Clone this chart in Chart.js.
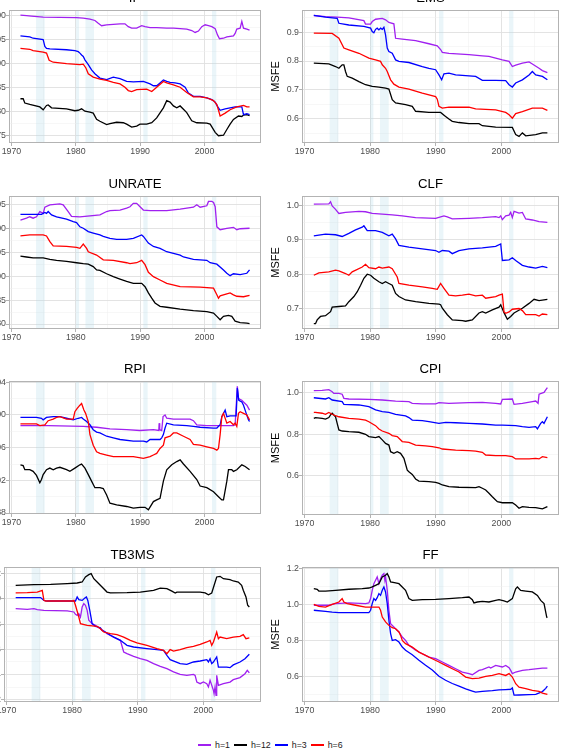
<!DOCTYPE html>
<html><head><meta charset="utf-8">
<script src="https://cdn.jsdelivr.net/npm/chart.js@4.4.1/dist/chart.umd.min.js"></script>
<style>
html,body{margin:0;padding:0;background:#fff}
body{width:564px;height:751px;overflow:hidden;position:relative;font-family:"Liberation Sans",Arial,sans-serif}
#legend{position:absolute;left:198px;top:737px;height:16px;display:flex;align-items:center;font-size:8.8px;color:#1a1a1a}
.key{width:13px;height:1.5px;margin-right:4px}
.lab{margin-right:4px;line-height:16px}
</style></head><body>
<div id="legend"></div>
<script>
// ---------------- shared axis data ----------------
const X_MIN = 1969.62, X_MAX = 2008.78;
const xTicks = [1970, 1975, 1980, 1985, 1990, 1995, 2000, 2005];
const xTickLabels = ['1970', '', '1980', '', '1990', '', '2000', ''];
const recessions = [[1973.83, 1975.17], [1980.0, 1980.5], [1981.5, 1982.83], [1990.5, 1991.17], [2001.17, 2001.83]];
const seriesNames = ['h=1', 'h=12', 'h=3', 'h=6'];
const seriesColors = ['#A020F0', '#000000', '#0000FF', '#FF0000'];

// ---------------- IP ----------------
const IP_yTicks = [0.75, 0.80, 0.85, 0.90, 0.95, 1.00];
const IP_yLabels = ['0.75', '0.80', '0.85', '0.90', '0.95', '1.00'];
const IP_h1 = [[1971.40,1.001],[1972.34,1.000],[1973.11,0.999],[1974.93,0.997],[1980.12,0.996],[1981.16,0.995],[1982.20,0.993],[1982.97,0.990],[1983.49,0.984],[1984.01,0.979],[1984.79,0.981],[1985.83,0.982],[1986.87,0.983],[1987.64,0.983],[1988.16,0.977],[1988.68,0.974],[1989.46,0.974],[1990.24,0.979],[1990.76,0.977],[1991.54,0.975],[1992.57,0.975],[1994.13,0.974],[1995.17,0.974],[1996.21,0.973],[1997.24,0.972],[1998.02,0.969],[1998.54,0.965],[1999.06,0.968],[1999.58,0.977],[2000.10,0.981],[2000.62,0.979],[2001.14,0.977],[2001.66,0.973],[2002.02,0.960],[2002.33,0.952],[2002.95,0.953],[2003.47,0.956],[2004.50,0.958],[2004.76,0.963],[2005.02,0.972],[2005.54,0.974],[2005.80,0.988],[2006.06,0.974],[2006.58,0.972],[2007.0,0.970]];
const IP_h12 = [[1971.40,0.827],[1971.82,0.827],[1972.08,0.818],[1972.85,0.815],[1974.41,0.810],[1974.93,0.804],[1975.45,0.813],[1975.71,0.814],[1976.23,0.808],[1978.56,0.806],[1979.86,0.802],[1980.38,0.803],[1980.90,0.806],[1981.42,0.801],[1982.20,0.799],[1982.71,0.797],[1983.23,0.784],[1983.75,0.780],[1984.79,0.773],[1985.31,0.775],[1986.35,0.778],[1987.38,0.777],[1987.90,0.774],[1988.68,0.768],[1989.46,0.770],[1989.98,0.774],[1991.02,0.774],[1991.80,0.777],[1992.57,0.787],[1993.61,0.808],[1994.13,0.823],[1994.65,0.820],[1995.17,0.812],[1995.69,0.808],[1996.21,0.812],[1996.73,0.805],[1997.24,0.798],[1998.02,0.781],[1998.80,0.777],[2000.36,0.776],[2000.88,0.774],[2001.66,0.757],[2002.17,0.750],[2002.95,0.751],[2003.47,0.763],[2003.98,0.774],[2004.50,0.784],[2005.28,0.791],[2005.80,0.790],[2006.06,0.793],[2006.58,0.794],[2007.0,0.792]];
const IP_h3 = [[1971.40,0.958],[1972.85,0.956],[1973.37,0.953],[1974.93,0.950],[1975.19,0.936],[1975.45,0.932],[1975.97,0.931],[1978.56,0.929],[1979.86,0.927],[1980.38,0.925],[1980.64,0.922],[1980.90,0.918],[1981.16,0.915],[1981.42,0.908],[1981.94,0.898],[1982.45,0.887],[1982.97,0.879],[1983.75,0.870],[1984.79,0.867],[1985.83,0.872],[1986.87,0.869],[1987.90,0.863],[1988.94,0.862],[1990.50,0.863],[1991.54,0.858],[1992.06,0.854],[1992.57,0.854],[1993.09,0.860],[1993.61,0.866],[1994.13,0.863],[1994.65,0.861],[1995.43,0.860],[1996.21,0.858],[1996.99,0.851],[1997.50,0.839],[1998.28,0.832],[1999.32,0.832],[2000.36,0.829],[2001.14,0.825],[2001.66,0.820],[2002.02,0.811],[2002.43,0.803],[2003.21,0.806],[2003.98,0.808],[2004.76,0.810],[2005.28,0.810],[2005.80,0.810],[2006.06,0.794],[2006.58,0.796],[2007.0,0.794]];
const IP_h6 = [[1971.40,0.932],[1972.85,0.930],[1973.37,0.927],[1974.93,0.924],[1975.45,0.922],[1975.86,0.907],[1976.49,0.903],[1978.56,0.900],[1980.64,0.898],[1981.16,0.899],[1981.57,0.891],[1981.94,0.879],[1982.71,0.872],[1983.75,0.868],[1984.79,0.865],[1985.83,0.861],[1986.87,0.858],[1987.64,0.851],[1988.16,0.844],[1988.68,0.842],[1989.46,0.846],[1991.02,0.847],[1991.80,0.842],[1992.57,0.851],[1993.61,0.863],[1994.13,0.860],[1995.17,0.856],[1996.21,0.851],[1997.24,0.840],[1998.28,0.831],[1999.32,0.831],[2000.36,0.829],[2001.40,0.823],[2001.92,0.815],[2002.43,0.791],[2003.21,0.797],[2003.98,0.804],[2005.02,0.810],[2006.06,0.813],[2006.58,0.810],[2007.0,0.810]];

// ---------------- EMS ----------------
const EMS_yTicks = [0.6, 0.7, 0.8, 0.9];
const EMS_yLabels = ['0.6', '0.7', '0.8', '0.9'];
const EMS_h1 = [[1971.42,0.958],[1973.20,0.954],[1974.98,0.952],[1976.76,0.950],[1979.05,0.940],[1979.30,0.928],[1980.07,0.928],[1980.32,0.937],[1980.83,0.945],[1981.85,0.948],[1982.35,0.943],[1982.86,0.934],[1983.62,0.929],[1983.88,0.879],[1984.90,0.876],[1986.93,0.871],[1988.96,0.860],[1990.23,0.853],[1990.74,0.840],[1991.00,0.830],[1992.01,0.827],[1995.06,0.822],[1997.10,0.818],[1998.11,0.816],[1999.13,0.810],[2000.15,0.804],[2001.17,0.799],[2001.67,0.781],[2002.18,0.786],[2003.20,0.793],[2004.22,0.797],[2004.72,0.790],[2005.74,0.775],[2006.25,0.767],[2007.01,0.760]];
const EMS_h12 = [[1971.42,0.793],[1973.71,0.790],[1974.73,0.781],[1975.24,0.775],[1975.74,0.787],[1976.0,0.787],[1976.25,0.764],[1976.51,0.747],[1977.27,0.741],[1978.29,0.729],[1979.30,0.718],[1980.32,0.712],[1981.34,0.710],[1982.35,0.706],[1982.86,0.703],[1983.37,0.666],[1983.88,0.655],[1985.40,0.649],[1986.42,0.643],[1986.93,0.626],[1988.96,0.622],[1990.74,0.622],[1991.50,0.608],[1992.01,0.599],[1992.52,0.591],[1993.54,0.587],[1995.06,0.583],[1996.59,0.583],[1997.10,0.576],[1999.13,0.571],[2001.67,0.570],[2002.18,0.545],[2002.69,0.539],[2003.20,0.551],[2003.71,0.541],[2005.23,0.545],[2006.25,0.551],[2007.01,0.551]];
const EMS_h3 = [[1971.42,0.958],[1973.20,0.952],[1974.98,0.948],[1975.24,0.931],[1976.76,0.925],[1979.05,0.920],[1980.07,0.914],[1980.32,0.902],[1980.57,0.898],[1980.83,0.910],[1981.08,0.914],[1981.34,0.908],[1981.59,0.914],[1981.85,0.910],[1982.10,0.917],[1982.35,0.891],[1982.61,0.845],[1982.86,0.833],[1983.37,0.827],[1983.88,0.804],[1984.39,0.799],[1985.91,0.795],[1987.95,0.781],[1988.96,0.775],[1989.98,0.770],[1990.49,0.752],[1990.90,0.735],[1991.25,0.756],[1992.01,0.758],[1993.03,0.752],[1996.08,0.747],[1997.10,0.733],[1999.13,0.733],[2000.66,0.732],[2001.17,0.718],[2001.67,0.710],[2002.18,0.724],[2003.20,0.735],[2004.22,0.752],[2004.72,0.764],[2005.23,0.752],[2006.25,0.747],[2007.01,0.735]];
const EMS_h6 = [[1971.42,0.897],[1974.22,0.896],[1975.24,0.879],[1976.0,0.845],[1976.76,0.839],[1978.29,0.827],[1979.81,0.810],[1980.83,0.804],[1981.59,0.799],[1981.85,0.787],[1982.35,0.775],[1982.61,0.764],[1983.12,0.735],[1983.62,0.720],[1984.39,0.710],[1985.91,0.703],[1987.95,0.689],[1989.98,0.677],[1990.23,0.668],[1990.49,0.643],[1991.00,0.637],[1992.01,0.640],[1995.06,0.640],[1996.08,0.634],[1999.13,0.631],[2000.66,0.622],[2001.17,0.614],[2001.67,0.602],[2002.18,0.618],[2003.20,0.625],[2004.72,0.637],[2006.25,0.637],[2007.01,0.629]];

// ---------------- UNRATE ----------------
const UNRATE_yTicks = [0.80, 0.85, 0.90, 0.95, 1.00, 1.05];
const UNRATE_yLabels = ['0.80', '0.85', '0.90', '0.95', '1.00', '1.05'];
const UNRATE_h1 = [[1971.40,1.017],[1972.34,1.021],[1972.85,1.024],[1973.37,1.021],[1973.89,1.024],[1974.41,1.035],[1974.93,1.031],[1975.19,1.044],[1975.97,1.049],[1977.52,1.051],[1978.04,1.049],[1978.82,1.035],[1979.34,1.025],[1980.64,1.024],[1983.75,1.028],[1984.79,1.035],[1985.31,1.037],[1986.87,1.038],[1987.90,1.042],[1988.42,1.045],[1988.94,1.052],[1989.46,1.052],[1989.98,1.045],[1990.50,1.038],[1991.54,1.037],[1994.13,1.037],[1996.21,1.040],[1998.28,1.044],[1998.80,1.049],[1999.32,1.044],[2000.36,1.047],[2000.62,1.056],[2001.14,1.056],[2001.40,1.054],[2001.66,1.045],[2001.92,1.003],[2002.43,0.997],[2003.47,1.000],[2004.50,1.002],[2005.02,0.997],[2005.54,0.999],[2007.0,1.000]];
const UNRATE_h12 = [[1971.40,0.942],[1972.34,0.940],[1973.37,0.938],[1974.93,0.938],[1975.97,0.935],[1977.01,0.933],[1978.56,0.931],[1980.12,0.928],[1981.16,0.926],[1981.94,0.925],[1982.71,0.920],[1983.23,0.913],[1983.75,0.912],[1984.79,0.905],[1985.83,0.899],[1986.87,0.894],[1987.90,0.889],[1988.94,0.885],[1990.24,0.885],[1990.76,0.878],[1991.28,0.865],[1991.80,0.854],[1992.31,0.844],[1993.09,0.837],[1994.13,0.835],[1996.21,0.831],[1998.28,0.828],[2000.36,0.826],[2001.40,0.823],[2001.92,0.816],[2002.43,0.809],[2002.95,0.816],[2003.73,0.818],[2004.24,0.816],[2004.76,0.806],[2005.54,0.803],[2006.58,0.802],[2007.0,0.801]];
const UNRATE_h3 = [[1971.40,1.029],[1974.67,1.029],[1975.19,1.033],[1975.45,1.031],[1975.71,1.035],[1976.23,1.028],[1977.01,1.024],[1978.56,1.019],[1979.60,1.014],[1980.12,1.012],[1980.64,1.003],[1981.16,1.000],[1981.94,0.993],[1982.71,0.990],[1983.75,0.986],[1984.27,0.983],[1985.31,0.979],[1986.35,0.977],[1987.90,0.977],[1988.94,0.979],[1990.24,0.986],[1990.50,0.983],[1991.28,0.969],[1992.06,0.962],[1993.09,0.958],[1994.13,0.951],[1996.21,0.944],[1996.73,0.940],[1998.28,0.935],[2000.36,0.933],[2000.88,0.928],[2001.92,0.925],[2002.95,0.913],[2003.47,0.906],[2003.98,0.901],[2004.50,0.905],[2005.54,0.903],[2006.58,0.906],[2007.0,0.913]];
const UNRATE_h6 = [[1971.40,0.984],[1972.85,0.986],[1974.93,0.986],[1975.45,0.984],[1975.97,0.972],[1976.49,0.963],[1978.56,0.962],[1980.12,0.960],[1980.64,0.958],[1981.16,0.967],[1981.68,0.958],[1981.94,0.951],[1983.23,0.944],[1984.27,0.934],[1985.83,0.933],[1987.90,0.928],[1988.42,0.926],[1989.46,0.928],[1990.24,0.933],[1990.76,0.924],[1991.28,0.908],[1992.06,0.899],[1993.09,0.892],[1994.13,0.885],[1996.21,0.878],[1999.32,0.877],[2001.40,0.875],[2001.92,0.861],[2002.17,0.854],[2002.43,0.859],[2003.47,0.863],[2003.98,0.865],[2004.50,0.861],[2005.02,0.858],[2006.06,0.857],[2007.0,0.860]];

// ---------------- CLF ----------------
const CLF_yTicks = [0.7, 0.8, 0.9, 1.0];
const CLF_yLabels = ['0.7', '0.8', '0.9', '1.0'];
const CLF_h1 = [[1971.42,1.004],[1973.71,1.005],[1973.97,1.011],[1974.22,0.999],[1974.73,0.989],[1975.24,0.977],[1976.25,0.980],[1978.29,0.983],[1979.30,0.982],[1980.32,0.977],[1981.85,0.975],[1983.37,0.973],[1984.90,0.970],[1986.93,0.965],[1989.98,0.963],[1991.25,0.970],[1991.76,0.967],[1992.52,0.961],[1995.06,0.963],[1997.10,0.965],[1999.13,0.968],[1999.64,0.965],[1999.90,0.970],[2000.15,0.959],[2000.66,0.970],[2001.17,0.972],[2001.42,0.980],[2001.67,0.965],[2001.93,0.983],[2002.69,0.978],[2003.20,0.980],[2003.71,0.961],[2004.72,0.958],[2005.74,0.953],[2007.01,0.951]];
const CLF_h12 = [[1971.42,0.656],[1971.68,0.656],[1971.93,0.667],[1972.44,0.677],[1973.20,0.679],[1973.97,0.691],[1974.22,0.704],[1975.24,0.706],[1976.25,0.708],[1976.76,0.720],[1977.53,0.735],[1978.04,0.749],[1978.55,0.768],[1979.05,0.788],[1979.56,0.800],[1980.07,0.797],[1980.57,0.788],[1981.34,0.778],[1981.85,0.773],[1982.35,0.778],[1982.86,0.773],[1983.37,0.768],[1983.88,0.744],[1984.39,0.735],[1985.40,0.725],[1986.93,0.720],[1988.96,0.715],[1990.49,0.713],[1990.74,0.711],[1991.00,0.701],[1991.76,0.682],[1992.52,0.667],[1994.05,0.665],[1994.56,0.663],[1995.57,0.667],[1996.59,0.687],[1997.10,0.691],[1997.61,0.687],[1998.62,0.696],[1999.64,0.704],[1999.90,0.711],[2000.40,0.688],[2000.91,0.669],[2001.42,0.677],[2001.93,0.687],[2003.20,0.701],[2004.22,0.715],[2004.98,0.727],[2005.74,0.723],[2007.01,0.727]];
const CLF_h3 = [[1971.42,0.912],[1973.20,0.917],[1974.73,0.915],[1975.74,0.910],[1976.76,0.919],[1977.78,0.929],[1978.80,0.937],[1979.05,0.941],[1979.56,0.927],[1980.83,0.927],[1981.85,0.922],[1982.86,0.912],[1983.37,0.917],[1983.88,0.903],[1984.39,0.884],[1985.91,0.879],[1987.95,0.874],[1989.98,0.869],[1990.49,0.864],[1991.00,0.869],[1992.01,0.867],[1992.52,0.860],[1993.54,0.869],[1995.06,0.874],[1997.10,0.877],[1999.13,0.881],[1999.90,0.888],[2000.15,0.840],[2001.17,0.842],[2001.67,0.848],[2002.18,0.840],[2003.20,0.826],[2004.22,0.821],[2005.23,0.818],[2006.25,0.823],[2007.01,0.819]];
const CLF_h6 = [[1971.42,0.797],[1972.19,0.804],[1973.71,0.807],[1974.73,0.812],[1975.24,0.810],[1976.25,0.802],[1976.76,0.797],[1977.27,0.807],[1978.80,0.821],[1979.30,0.829],[1979.81,0.819],[1980.83,0.816],[1981.34,0.821],[1981.85,0.818],[1982.86,0.821],[1983.37,0.816],[1984.13,0.792],[1984.39,0.773],[1985.91,0.768],[1987.95,0.763],[1989.47,0.759],[1990.23,0.756],[1990.74,0.773],[1991.25,0.759],[1992.01,0.739],[1993.03,0.737],[1994.05,0.739],[1995.06,0.742],[1996.08,0.737],[1997.10,0.739],[1997.61,0.730],[1999.13,0.735],[1999.64,0.739],[2000.15,0.742],[2000.40,0.690],[2000.66,0.686],[2001.17,0.690],[2001.67,0.698],[2002.69,0.700],[2003.20,0.694],[2003.71,0.682],[2005.23,0.682],[2005.74,0.678],[2006.25,0.684],[2007.01,0.682]];

// ---------------- RPI ----------------
const RPI_yTicks = [0.88, 0.92, 0.96, 1.00, 1.04];
const RPI_yLabels = ['0.88', '0.92', '0.96', '1.00', '1.04'];
const RPI_h1 = [[1971.40,0.987],[1975.71,0.987],[1981.16,0.986],[1983.23,0.985],[1985.31,0.983],[1987.90,0.982],[1989.98,0.981],[1992.06,0.982],[1992.90,0.981],[1992.95,0.990],[1993.04,0.982],[1993.35,0.981],[1993.56,0.998],[1993.87,1.000],[1994.13,0.996],[1995.17,0.995],[1997.76,0.995],[1998.28,0.993],[1998.80,0.988],[2000.36,0.987],[2004.50,0.987],[2004.76,0.988],[2005.10,1.035],[2005.28,1.020],[2005.80,1.018],[2006.06,1.016],[2006.58,1.012],[2007.0,1.006]];
const RPI_h12 = [[1971.40,0.939],[1971.82,0.938],[1972.08,0.933],[1972.85,0.933],[1973.37,0.931],[1973.89,0.926],[1974.41,0.917],[1974.67,0.921],[1974.93,0.927],[1975.45,0.933],[1975.97,0.935],[1976.49,0.933],[1977.01,0.935],[1977.53,0.936],[1978.56,0.933],[1979.08,0.931],[1979.86,0.935],[1980.64,0.939],[1980.90,0.940],[1981.42,0.935],[1981.94,0.927],[1982.45,0.919],[1982.97,0.911],[1983.75,0.911],[1984.27,0.910],[1984.79,0.902],[1985.31,0.892],[1986.35,0.890],[1987.90,0.888],[1988.94,0.886],[1989.98,0.887],[1990.76,0.887],[1991.28,0.884],[1992.06,0.894],[1992.57,0.896],[1993.09,0.898],[1993.61,0.919],[1994.13,0.933],[1994.91,0.939],[1995.69,0.943],[1996.21,0.945],[1996.73,0.940],[1997.76,0.931],[1998.80,0.921],[1999.32,0.913],[2000.36,0.911],[2001.40,0.906],[2002.17,0.900],[2002.69,0.896],[2002.95,0.896],[2003.47,0.919],[2003.73,0.933],[2004.24,0.933],[2004.50,0.931],[2005.02,0.933],[2005.80,0.939],[2006.32,0.937],[2007.0,0.933]];
const RPI_h3 = [[1971.40,0.997],[1973.89,0.997],[1974.67,0.996],[1974.93,0.994],[1975.45,0.997],[1976.49,0.998],[1977.53,0.998],[1978.56,0.996],[1979.60,0.994],[1980.38,0.996],[1980.90,0.997],[1981.16,0.995],[1981.68,0.992],[1982.20,0.988],[1982.71,0.982],[1983.23,0.979],[1983.75,0.978],[1984.79,0.974],[1985.83,0.972],[1986.87,0.970],[1988.94,0.968],[1990.50,0.968],[1991.02,0.967],[1991.54,0.970],[1993.09,0.970],[1993.35,0.972],[1993.61,0.976],[1993.87,0.984],[1994.13,0.990],[1995.17,0.988],[1997.24,0.987],[1998.28,0.986],[1999.32,0.985],[2001.40,0.984],[2001.92,0.984],[2002.43,0.988],[2002.69,0.998],[2003.21,1.006],[2003.47,0.998],[2003.98,0.999],[2004.50,0.999],[2004.92,0.999],[2005.10,1.033],[2005.33,1.018],[2005.80,1.016],[2006.06,1.012],[2006.48,1.002],[2006.84,0.994],[2007.0,0.992]];
const RPI_h6 = [[1971.40,0.989],[1973.89,0.989],[1974.41,0.987],[1975.19,0.988],[1975.71,0.993],[1976.49,0.995],[1977.01,0.997],[1977.53,0.998],[1978.56,0.995],[1979.60,0.995],[1979.86,1.004],[1980.22,1.008],[1980.64,1.012],[1980.90,1.014],[1981.26,1.006],[1981.52,1.002],[1981.94,0.992],[1982.20,0.976],[1982.71,0.963],[1983.23,0.955],[1983.75,0.953],[1984.79,0.951],[1985.83,0.949],[1988.94,0.949],[1990.50,0.947],[1991.54,0.949],[1992.06,0.951],[1992.57,0.953],[1993.09,0.959],[1993.61,0.963],[1993.87,0.972],[1994.65,0.974],[1995.17,0.978],[1995.69,0.978],[1996.73,0.974],[1997.76,0.970],[1998.28,0.964],[1999.32,0.963],[2000.36,0.961],[2001.40,0.959],[2001.92,0.957],[2002.17,0.959],[2002.43,0.976],[2002.69,0.998],[2002.95,1.002],[2003.47,0.990],[2003.98,0.992],[2004.50,0.988],[2004.76,0.990],[2005.02,0.986],[2005.28,1.002],[2005.54,1.004],[2006.06,1.002],[2006.58,1.000],[2007.0,0.994]];

// ---------------- CPI ----------------
const CPI_yTicks = [0.6, 0.8, 1.0];
const CPI_yLabels = ['0.6', '0.8', '1.0'];
const CPI_h1 = [[1971.42,1.011],[1972.69,1.013],[1973.71,1.016],[1974.22,1.006],[1974.47,0.998],[1975.24,0.998],[1975.74,0.994],[1976.0,0.974],[1976.76,0.971],[1979.81,0.969],[1981.85,0.966],[1983.88,0.961],[1985.91,0.958],[1986.42,0.950],[1987.95,0.947],[1989.98,0.947],[1990.49,0.953],[1992.01,0.950],[1995.06,0.953],[1997.10,0.955],[1999.13,0.950],[1999.90,0.947],[2000.15,0.969],[2001.67,0.971],[2001.93,0.945],[2003.20,0.950],[2004.72,0.958],[2005.23,0.961],[2005.59,0.950],[2005.74,0.994],[2006.50,1.003],[2006.76,1.015],[2007.01,1.026]];
const CPI_h12 = [[1971.42,0.877],[1971.68,0.881],[1972.69,0.877],[1973.20,0.874],[1973.71,0.881],[1973.97,0.894],[1974.22,0.902],[1974.73,0.885],[1974.98,0.853],[1975.24,0.821],[1975.74,0.816],[1976.76,0.813],[1978.29,0.810],[1979.30,0.800],[1979.81,0.789],[1980.83,0.784],[1981.34,0.789],[1981.85,0.773],[1982.35,0.756],[1982.86,0.748],[1983.12,0.716],[1983.62,0.708],[1984.13,0.716],[1984.64,0.708],[1985.15,0.684],[1985.66,0.627],[1985.91,0.619],[1986.42,0.606],[1986.93,0.584],[1987.44,0.574],[1988.96,0.571],[1989.98,0.568],[1990.49,0.563],[1991.00,0.555],[1992.01,0.547],[1993.54,0.544],[1996.08,0.542],[1996.59,0.547],[1997.10,0.539],[1997.61,0.531],[1998.11,0.515],[1998.62,0.498],[1999.39,0.474],[2000.15,0.469],[2001.67,0.469],[2002.18,0.458],[2002.69,0.442],[2003.20,0.450],[2004.22,0.447],[2005.23,0.445],[2006.25,0.439],[2007.01,0.450]];
const CPI_h3 = [[1971.42,0.977],[1973.20,0.971],[1973.71,0.977],[1974.22,0.966],[1975.74,0.958],[1976.0,0.945],[1978.29,0.942],[1979.81,0.934],[1980.83,0.918],[1981.85,0.910],[1982.86,0.906],[1983.88,0.897],[1985.40,0.889],[1985.91,0.881],[1986.42,0.869],[1987.95,0.866],[1988.96,0.861],[1990.49,0.853],[1991.50,0.858],[1993.03,0.856],[1995.06,0.853],[1997.10,0.850],[1999.13,0.845],[2000.15,0.845],[2002.18,0.842],[2003.20,0.837],[2004.22,0.834],[2005.23,0.837],[2005.49,0.826],[2005.99,0.853],[2006.25,0.861],[2006.50,0.853],[2007.01,0.885]];
const CPI_h6 = [[1971.42,0.906],[1971.68,0.906],[1972.69,0.902],[1973.20,0.897],[1973.71,0.906],[1974.22,0.897],[1974.73,0.890],[1975.24,0.885],[1976.76,0.877],[1978.29,0.874],[1979.30,0.869],[1979.81,0.861],[1980.83,0.842],[1981.34,0.826],[1981.85,0.816],[1982.86,0.805],[1983.37,0.794],[1984.13,0.789],[1984.39,0.781],[1984.90,0.765],[1985.91,0.761],[1986.93,0.748],[1988.45,0.744],[1989.47,0.740],[1990.49,0.735],[1991.00,0.729],[1993.03,0.724],[1995.06,0.721],[1996.08,0.719],[1997.10,0.713],[1997.61,0.700],[1999.13,0.697],[2000.66,0.697],[2001.67,0.692],[2002.18,0.681],[2004.22,0.681],[2005.23,0.684],[2005.74,0.681],[2006.25,0.692],[2007.01,0.687]];

// ---------------- TB3MS ----------------
const TB3MS_yTicks = [0.2, 0.4, 0.6, 0.8, 1.0, 1.2];
const TB3MS_yLabels = ['0.2', '0.4', '0.6', '0.8', '1.0', '1.2'];
const TB3MS_h1 = [[1971.40,0.922],[1973.17,0.917],[1974.18,0.922],[1974.69,0.914],[1975.70,0.909],[1979.25,0.904],[1980.26,0.896],[1980.51,0.877],[1980.77,0.869],[1981.02,0.883],[1981.27,0.856],[1981.53,0.935],[1981.78,0.962],[1982.03,0.949],[1982.29,0.909],[1982.54,0.830],[1983.05,0.803],[1983.55,0.790],[1984.06,0.771],[1984.31,0.763],[1984.82,0.745],[1985.32,0.724],[1986.34,0.697],[1987.35,0.671],[1987.86,0.578],[1988.36,0.565],[1989.37,0.544],[1990.39,0.525],[1991.40,0.512],[1992.41,0.486],[1993.43,0.465],[1994.44,0.446],[1995.45,0.420],[1996.46,0.401],[1997.48,0.393],[1998.49,0.401],[1998.74,0.393],[1999.00,0.340],[1999.51,0.327],[2000.01,0.340],[2000.52,0.327],[2000.77,0.301],[2001.02,0.353],[2001.53,0.274],[2001.63,0.248],[2001.78,0.301],[2001.93,0.234],[2002.03,0.393],[2002.29,0.314],[2003.05,0.327],[2004.06,0.340],[2004.56,0.359],[2005.07,0.367],[2005.58,0.375],[2006.34,0.406],[2006.69,0.433],[2007.0,0.412]];
const TB3MS_h12 = [[1971.40,1.107],[1974.18,1.113],[1976.72,1.115],[1979.25,1.121],[1980.77,1.126],[1981.53,1.134],[1982.03,1.174],[1982.54,1.192],[1982.90,1.200],[1983.30,1.160],[1983.81,1.134],[1984.56,1.094],[1985.32,1.054],[1985.83,1.047],[1988.36,1.049],[1990.39,1.054],[1992.41,1.068],[1993.43,1.086],[1994.44,1.081],[1995.20,1.062],[1995.71,1.047],[1995.96,1.054],[1997.48,1.054],[1999.51,1.054],[2000.27,1.047],[2000.77,1.033],[2001.27,1.047],[2002.03,1.174],[2002.54,1.179],[2003.05,1.160],[2004.06,1.152],[2004.56,1.142],[2005.32,1.134],[2005.83,1.107],[2006.08,1.068],[2006.49,1.015],[2006.75,0.949],[2007.0,0.935]];
const TB3MS_h3 = [[1971.40,1.010],[1975.20,1.010],[1975.70,0.988],[1976.21,0.983],[1980.51,0.983],[1980.77,1.015],[1981.02,0.994],[1981.53,0.988],[1982.03,1.010],[1982.18,1.015],[1982.39,0.988],[1982.69,0.909],[1983.05,0.803],[1983.55,0.782],[1984.31,0.771],[1984.56,0.750],[1985.07,0.737],[1985.83,0.711],[1986.34,0.697],[1987.35,0.671],[1988.36,0.631],[1989.37,0.618],[1991.40,0.605],[1992.92,0.597],[1993.93,0.592],[1994.44,0.552],[1994.94,0.517],[1996.46,0.486],[1997.48,0.480],[1998.49,0.499],[1999.51,0.507],[2000.52,0.517],[2000.77,0.499],[2001.02,0.525],[2001.27,0.486],[2001.53,0.499],[2002.03,0.539],[2002.29,0.459],[2003.55,0.459],[2004.06,0.454],[2004.56,0.476],[2005.58,0.499],[2006.34,0.525],[2007.0,0.560]];
const TB3MS_h6 = [[1971.40,1.047],[1973.17,1.049],[1974.69,1.054],[1975.45,1.068],[1975.70,0.988],[1975.96,0.983],[1980.01,0.983],[1980.26,0.988],[1980.51,0.949],[1981.02,0.856],[1981.27,0.803],[1982.29,0.790],[1983.81,0.782],[1984.31,0.763],[1984.82,0.737],[1985.83,0.724],[1986.84,0.716],[1987.86,0.697],[1988.87,0.671],[1989.88,0.650],[1991.40,0.631],[1992.92,0.605],[1993.93,0.592],[1994.44,0.565],[1994.94,0.597],[1995.45,0.586],[1996.46,0.597],[1997.48,0.613],[1998.49,0.623],[1999.51,0.639],[2000.52,0.658],[2001.02,0.671],[2001.27,0.631],[2001.53,0.658],[2002.03,0.737],[2002.29,0.684],[2002.54,0.697],[2003.55,0.684],[2004.56,0.697],[2005.58,0.703],[2006.08,0.716],[2006.49,0.684],[2007.0,0.690]];

// ---------------- FF ----------------
const FF_yTicks = [0.6, 0.8, 1.0, 1.2];
const FF_yLabels = ['0.6', '0.8', '1.0', '1.2'];
const FF_h1 = [[1971.42,0.996],[1973.71,0.996],[1974.73,1.005],[1976.76,1.009],[1979.30,1.005],[1979.81,1.009],[1980.07,1.033],[1980.32,1.079],[1980.57,1.116],[1980.83,1.135],[1981.08,1.154],[1981.34,1.116],[1981.59,1.144],[1981.85,1.163],[1982.10,1.172],[1982.25,1.135],[1982.35,1.154],[1982.61,1.079],[1982.86,0.968],[1983.12,0.893],[1983.88,0.865],[1984.39,0.847],[1984.90,0.819],[1985.40,0.800],[1985.91,0.773],[1986.93,0.745],[1987.95,0.726],[1988.96,0.707],[1989.98,0.698],[1991.00,0.680],[1992.01,0.661],[1993.03,0.642],[1994.05,0.624],[1995.06,0.615],[1995.57,0.609],[1996.59,0.633],[1997.10,0.637],[1998.11,0.652],[1998.37,0.646],[1999.13,0.661],[2000.15,0.652],[2000.66,0.661],[2001.17,0.648],[2001.42,0.633],[2001.67,0.615],[2002.18,0.624],[2003.20,0.633],[2004.22,0.637],[2005.23,0.642],[2006.25,0.646],[2007.01,0.646]];
const FF_h12 = [[1971.42,1.088],[1971.93,1.085],[1972.19,1.075],[1973.20,1.075],[1974.73,1.079],[1976.76,1.085],[1978.80,1.088],[1979.81,1.092],[1980.32,1.098],[1980.83,1.107],[1981.34,1.116],[1981.85,1.154],[1982.35,1.163],[1982.61,1.172],[1982.86,1.154],[1983.12,1.126],[1983.88,1.120],[1984.39,1.116],[1985.40,1.079],[1985.91,1.033],[1986.42,1.023],[1987.95,1.027],[1989.98,1.029],[1992.01,1.033],[1994.05,1.038],[1995.06,1.042],[1995.57,1.027],[1995.82,1.009],[1996.33,1.014],[1997.10,1.018],[1998.11,1.014],[1999.13,1.023],[1999.64,1.027],[2000.40,1.020],[2000.91,1.014],[2001.67,1.033],[2002.18,1.088],[2002.44,1.098],[2002.94,1.079],[2003.71,1.075],[2004.72,1.070],[2005.49,1.051],[2005.99,1.023],[2006.50,1.005],[2006.91,0.930],[2007.01,0.927]];
const FF_h3 = [[1971.42,0.968],[1973.20,0.962],[1974.22,0.958],[1975.24,0.955],[1979.81,0.955],[1980.07,0.968],[1980.32,1.005],[1980.57,1.033],[1980.83,1.023],[1981.08,1.038],[1981.34,1.061],[1981.59,1.051],[1981.85,1.079],[1982.10,1.098],[1982.35,1.070],[1982.61,1.005],[1982.86,0.912],[1983.12,0.838],[1983.37,0.800],[1983.88,0.804],[1984.39,0.791],[1984.90,0.763],[1985.40,0.745],[1986.42,0.720],[1987.44,0.690],[1988.45,0.662],[1989.47,0.635],[1990.49,0.600],[1991.50,0.578],[1992.52,0.560],[1993.54,0.545],[1994.56,0.530],[1995.57,0.518],[1996.08,0.512],[1997.10,0.516],[1998.62,0.520],[1999.64,0.524],[2000.66,0.526],[2001.42,0.528],[2001.67,0.535],[2001.93,0.495],[2002.69,0.496],[2004.22,0.498],[2005.23,0.500],[2006.25,0.515],[2006.76,0.533],[2007.01,0.545]];
const FF_h6 = [[1971.42,1.001],[1972.19,0.990],[1973.20,0.986],[1974.22,1.001],[1975.24,1.014],[1975.74,1.033],[1976.0,1.014],[1976.51,1.005],[1977.78,0.996],[1979.30,0.986],[1981.34,0.986],[1981.59,0.968],[1981.85,0.930],[1982.35,0.903],[1982.86,0.884],[1983.37,0.871],[1983.88,0.865],[1984.39,0.847],[1984.64,0.828],[1984.90,0.800],[1985.40,0.782],[1986.42,0.763],[1987.44,0.735],[1988.45,0.717],[1989.47,0.698],[1990.49,0.680],[1991.50,0.661],[1992.52,0.642],[1993.54,0.624],[1994.56,0.596],[1995.57,0.587],[1996.59,0.590],[1997.61,0.600],[1998.62,0.605],[1999.64,0.615],[2000.66,0.605],[2001.17,0.615],[2001.67,0.596],[2002.18,0.559],[2002.69,0.540],[2003.71,0.531],[2004.72,0.522],[2005.74,0.516],[2006.25,0.507],[2007.01,0.499]];

// ---------------- panel layout (positions only) ----------------
const panels = [
  {title:'IP',     series:[IP_h1, IP_h12, IP_h3, IP_h6],         yTicks:IP_yTicks,     yLabels:IP_yLabels,     yMin:0.7348, yMax:1.0118, col:0, plotTop:10,  plotBottom:143, plotLeft:9},
  {title:'EMS',    series:[EMS_h1, EMS_h12, EMS_h3, EMS_h6],     yTicks:EMS_yTicks,    yLabels:EMS_yLabels,    yMin:0.516,  yMax:0.977,  col:1, plotTop:10,  plotBottom:143, plotLeft:302},
  {title:'UNRATE', series:[UNRATE_h1, UNRATE_h12, UNRATE_h3, UNRATE_h6], yTicks:UNRATE_yTicks, yLabels:UNRATE_yLabels, yMin:0.7896, yMax:1.0674, col:0, plotTop:196, plotBottom:329, plotLeft:9},
  {title:'CLF',    series:[CLF_h1, CLF_h12, CLF_h3, CLF_h6],     yTicks:CLF_yTicks,    yLabels:CLF_yLabels,    yMin:0.6404, yMax:1.0279, col:1, plotTop:196, plotBottom:329, plotLeft:302},
  {title:'RPI',    series:[RPI_h1, RPI_h12, RPI_h3, RPI_h6],     yTicks:RPI_yTicks,    yLabels:RPI_yLabels,    yMin:0.8788, yMax:1.0416, col:0, plotTop:381, plotBottom:514, plotLeft:9},
  {title:'CPI',    series:[CPI_h1, CPI_h12, CPI_h3, CPI_h6],     yTicks:CPI_yTicks,    yLabels:CPI_yLabels,    yMin:0.4097, yMax:1.058,  col:1, plotTop:381, plotBottom:515, plotLeft:302},
  {title:'TB3MS',  series:[TB3MS_h1, TB3MS_h12, TB3MS_h3, TB3MS_h6], yTicks:TB3MS_yTicks, yLabels:TB3MS_yLabels, yMin:0.1815, yMax:1.253, col:0, plotTop:567, plotBottom:702, plotLeft:4},
  {title:'FF',     series:[FF_h1, FF_h12, FF_h3, FF_h6],         yTicks:FF_yTicks,     yLabels:FF_yLabels,     yMin:0.457,  yMax:1.209,  col:1, plotTop:567, plotBottom:702, plotLeft:302}
];

const FONT = '"Liberation Sans", Arial, Helvetica, sans-serif';
Chart.defaults.font.family = FONT;

const recessionPlugin = {
  id: 'recessions',
  beforeDatasetsDraw(chart) {
    const {ctx, chartArea: a, scales: {x}} = chart;
    ctx.save();
    ctx.beginPath(); ctx.rect(a.left, a.top, a.right - a.left, a.bottom - a.top); ctx.clip();
    ctx.fillStyle = 'rgba(173,216,230,0.26)';
    recessions.forEach(([s, e]) => {
      const x0 = x.getPixelForValue(s), x1 = x.getPixelForValue(e);
      ctx.fillRect(x0, a.top, x1 - x0, a.bottom - a.top);
    });
    ctx.restore();
  }
};
const borderPlugin = {
  id: 'panelBorder',
  afterDatasetsDraw(chart) {
    const {ctx, chartArea: a} = chart;
    ctx.save();
    ctx.strokeStyle = '#b3b3b3'; ctx.lineWidth = 1;
    ctx.strokeRect(Math.round(a.left) + 0.5, Math.round(a.top) + 0.5, Math.round(a.right - a.left) - 1, Math.round(a.bottom - a.top) - 1);
    ctx.restore();
  }
};

function near(v, arr) { return arr.findIndex(t => Math.abs(t - v) < 1e-6); }

function buildPanel(p) {
  const W = 296;
  const canvasLeft = p.col === 0 ? -30 : 268;
  const top = p.plotTop - 20;
  const H = (p.plotBottom - p.plotTop) + 40;
  const cv = document.createElement('canvas');
  cv.width = W; cv.height = H;
  cv.style.cssText = `position:absolute;left:${canvasLeft}px;top:${top}px;width:${W}px;height:${H}px`;
  document.body.appendChild(cv);

  const step = p.yTicks[1] - p.yTicks[0];
  let yAll = [];
  for (let v = p.yTicks[0] - step; v <= p.yTicks[p.yTicks.length - 1] + step + 1e-9; v += step / 2) {
    const r = Math.round(v * 10000) / 10000;
    if (r >= p.yMin && r <= p.yMax) yAll.push(r);
  }
  const yAxisW = p.plotLeft - canvasLeft;

  const order = [3, 2, 1, 0]; // h=6 drawn on top
  const datasets = order.map(i => ({
    label: seriesNames[i],
    data: p.series[i].map(([x, y]) => ({x, y})),
    borderColor: seriesColors[i],
    borderWidth: 1.3,
    pointRadius: 0,
    tension: 0,
    fill: false
  }));

  new Chart(cv, {
    type: 'line',
    data: {datasets},
    options: {
      responsive: false, animation: false, devicePixelRatio: 1,
      layout: {padding: {top: 0, bottom: 0, left: 0, right: 5}},
      plugins: {
        legend: {display: false}, tooltip: {enabled: false},
        title: {display: true, text: p.title, fullSize: false, color: '#000',
                font: {family: FONT, size: 13.2, weight: 'normal'}, padding: {top: 0, bottom: 4.16}}
      },
      scales: {
        x: {
          type: 'linear', min: X_MIN, max: X_MAX,
          afterBuildTicks: s => { s.ticks = xTicks.map(v => ({value: v})); },
          afterFit: s => { s.height = 20; },
          ticks: {autoSkip: false, maxRotation: 0, padding: 0, color: '#4d4d4d', font: {family: FONT, size: 8.8},
                  callback: v => { const i = near(v, xTicks); return i >= 0 ? xTickLabels[i] : ''; }},
          grid: {
            color: c => (c.tick && c.tick.value % 10 === 0) ? '#e0e0e0' : '#eeeeee',
            lineWidth: c => (c.tick && c.tick.value % 10 === 0) ? 0.9 : 0.5,
            tickLength: 3,
            tickColor: c => (c.tick && c.tick.value % 10 === 0) ? '#b3b3b3' : 'rgba(0,0,0,0)',
            tickWidth: 1
          },
          border: {display: false}
        },
        y: {
          type: 'linear', min: p.yMin, max: p.yMax,
          afterBuildTicks: s => { s.ticks = yAll.map(v => ({value: v})); },
          afterFit: s => { s.width = yAxisW; },
          ticks: {autoSkip: false, padding: 0, color: '#4d4d4d', font: {family: FONT, size: 8.8},
                  callback: v => { const i = near(v, p.yTicks); return i >= 0 ? p.yLabels[i] : ''; }},
          grid: {
            color: c => (c.tick && near(c.tick.value, p.yTicks) >= 0) ? '#e0e0e0' : '#eeeeee',
            lineWidth: c => (c.tick && near(c.tick.value, p.yTicks) >= 0) ? 0.9 : 0.5,
            tickLength: 3,
            tickColor: c => (c.tick && near(c.tick.value, p.yTicks) >= 0) ? '#b3b3b3' : 'rgba(0,0,0,0)',
            tickWidth: 1
          },
          border: {display: false},
          title: {display: true, text: 'MSFE', color: '#000', font: {family: FONT, size: 11}, padding: {top: 1.4, bottom: 0}}
        }
      }
    },
    plugins: [recessionPlugin, borderPlugin]
  });
}

panels.forEach(buildPanel);

// legend (HTML text, key colours from the series colour list)
const legend = document.getElementById('legend');
seriesNames.forEach((n, i) => {
  const k = document.createElement('div'); k.className = 'key'; k.style.background = seriesColors[i];
  const t = document.createElement('span'); t.className = 'lab'; t.textContent = n;
  legend.appendChild(k); legend.appendChild(t);
});
</script>
</body></html>
